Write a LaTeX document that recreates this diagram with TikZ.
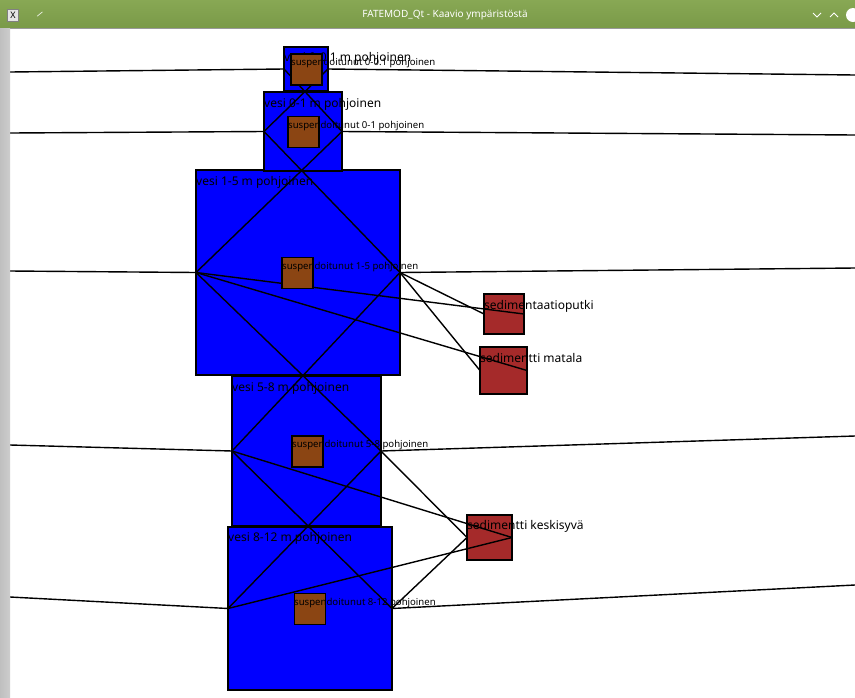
\documentclass[tikz,border=0pt]{standalone}
\usepackage{fontspec}
\setmainfont{Noto Sans}
\definecolor{waterblue}{RGB}{0,0,255}
\definecolor{suspbrown}{RGB}{139,69,19}
\definecolor{sedred}{RGB}{165,42,42}
\definecolor{titlegreen}{RGB}{122,154,72}
\definecolor{titlegreenlt}{RGB}{136,168,84}
\definecolor{framegray}{RGB}{205,205,205}
\begin{document}
\begin{tikzpicture}[x=1pt,y=-1pt,
  water/.style={draw=black, line width=1.5pt, fill=waterblue, inner sep=0pt, outer sep=0pt},
  susp/.style={draw=black, line width=1.5pt, fill=suspbrown, inner sep=0pt, outer sep=0pt, minimum width=31pt, minimum height=31pt},
  sed/.style={draw=black, line width=1.5pt, fill=sedred, inner sep=0pt, outer sep=0pt},
  biglabel/.style={anchor=base west, inner sep=0pt, font=\fontsize{12}{14}\selectfont, text=black},
  smalllabel/.style={anchor=base west, inner sep=0pt, font=\fontsize{9.6}{11}\selectfont, text=black},
  conn/.style={draw=black, line width=1.4pt}]
\useasboundingbox (0,0) rectangle (855,697);
\fill[white] (0,0) rectangle (855,697);

% window title bar
\shade[top color=titlegreenlt, bottom color=titlegreen] (0,0) rectangle (855,28);
\draw[black!40, line width=0.8pt] (0,28) -- (855,28);
\node[inner sep=0pt, text=white, font=\fontsize{10}{12}\selectfont] (title) at (445,15) {FATEMOD\_Qt - Kaavio ympäristöstä};
\node[draw=black!50, fill=black!10, minimum width=11pt, minimum height=12pt, inner sep=0pt, font=\fontsize{9}{10}\selectfont] (xicon) at (13,15) {X};
\node[inner sep=0pt, text=white, font=\fontsize{9}{10}\selectfont, rotate=-30] (pin) at (40,15) {/};
\draw[white, line width=0.9pt] (813,13) -- (817,17) -- (821,13);
\draw[white, line width=0.9pt] (830,17) -- (834,13) -- (838,17);
\fill[white] (853,15) circle (7);

% water compartments
\node[water, minimum width=204pt, minimum height=205pt] (w3) at (298,272.5) {};
\node[biglabel] (w3l) at (196,185.5) {vesi 1-5 m pohjoinen};
\node[water, minimum width=78pt, minimum height=79pt] (w2) at (303,131.5) {};
\node[biglabel] (w2l) at (264,107) {vesi 0-1 m pohjoinen};
\node[water, minimum width=44pt, minimum height=44pt] (w1) at (306,69) {};
\node[biglabel] (w1l) at (284,61) {vesi 0-0.1 m pohjoinen};
\node[water, minimum width=149pt, minimum height=150pt] (w4) at (306.5,451) {};
\node[biglabel] (w4l) at (232,391) {vesi 5-8 m pohjoinen};
\node[water, minimum width=164pt, minimum height=163pt] (w5) at (310,608.5) {};
\node[biglabel] (w5l) at (228,541) {vesi 8-12 m pohjoinen};

% sediment compartments
\node[sed, minimum width=40pt, minimum height=40pt] (s1) at (504,314) {};
\node[sed, minimum width=47pt, minimum height=47pt] (s2) at (503.5,370.5) {};
\node[sed, minimum width=45pt, minimum height=45pt] (s3) at (489.5,537.5) {};

% free ends of lines leaving the view
\coordinate (L1) at (10,72);  \coordinate (R1) at (855,75);
\coordinate (L2) at (10,133); \coordinate (R2) at (855,135);
\coordinate (L3) at (10,271); \coordinate (R3) at (855,268);
\coordinate (L4) at (10,445); \coordinate (R4) at (855,436);
\coordinate (L5) at (10,597); \coordinate (R5) at (855,585);

% connectors
\draw[conn] (L1) -- (w1.west);  \draw[conn] (w1.east) -- (R1);
\draw[conn] (L2) -- (w2.west);  \draw[conn] (w2.east) -- (R2);
\draw[conn] (L3) -- (w3.west);  \draw[conn] (w3.east) -- (R3);
\draw[conn] (L4) -- (w4.west);  \draw[conn] (w4.east) -- (R4);
\draw[conn] (L5) -- (w5.west);  \draw[conn] (w5.east) -- (R5);
\draw[conn] (w1.west) -- (w2.east);  \draw[conn] (w1.east) -- (w2.west);
\draw[conn] (w2.west) -- (w3.east);  \draw[conn] (w2.east) -- (w3.west);
\draw[conn] (w3.west) -- (w4.east);  \draw[conn] (w3.east) -- (w4.west);
\draw[conn] (w4.west) -- (w5.east);  \draw[conn] (w4.east) -- (w5.west);
\draw[conn] (w3.west) -- (s1.east);  \draw[conn] (w3.east) -- (s1.west);
\draw[conn] (w3.west) -- (s2.east);  \draw[conn] (w3.east) -- (s2.west);
\draw[conn] (w4.west) -- (s3.east);  \draw[conn] (w4.east) -- (s3.west);
\draw[conn] (w5.west) -- (s3.east);  \draw[conn] (w5.east) -- (s3.west);

% suspended compartments
\node[susp] (b1) at (306.5,69.5) {};
\node[smalllabel] (b1l) at (291,65.5) {suspendoitunut 0-0.1 pohjoinen};
\node[susp] (b2) at (303.5,132) {};
\node[smalllabel] (b2l) at (288,128) {suspendoitunut 0-1 pohjoinen};
\node[susp] (b3) at (297.5,273) {};
\node[smalllabel] (b3l) at (282,269) {suspendoitunut 1-5 pohjoinen};
\node[susp] (b4) at (307.5,451.5) {};
\node[smalllabel] (b4l) at (292,447.5) {suspendoitunut 5-8 pohjoinen};
\node[susp] (b5) at (310,609) {};
\node[smalllabel] (b5l) at (294,605) {suspendoitunut 8-12 pohjoinen};

% sediment labels
\node[biglabel] (s1l) at (484,309) {sedimentaatioputki};
\node[biglabel] (s2l) at (480,362) {sedimentti matala};
\node[biglabel] (s3l) at (467,529.5) {sedimentti keskisyvä};

% window frame, left edge
\shade[left color=black!25, right color=framegray] (0,28) rectangle (10,697);
\end{tikzpicture}
\end{document}
